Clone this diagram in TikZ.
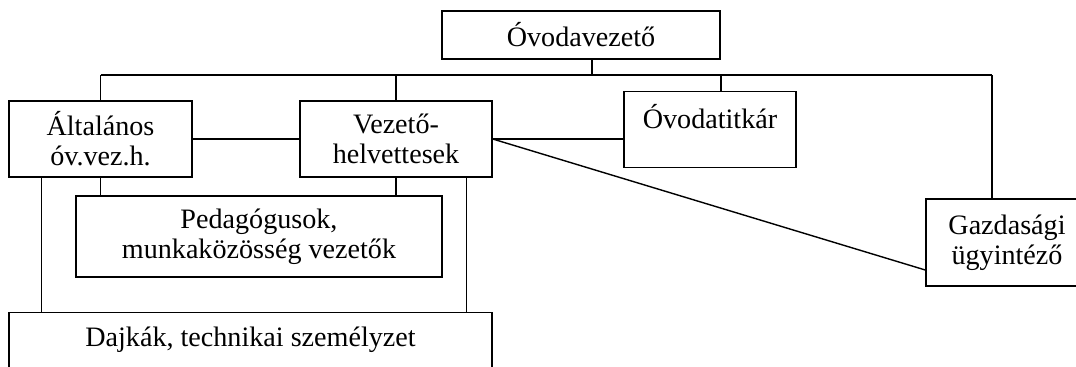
\documentclass[tikz,border=0pt]{standalone}
\usepackage{fontspec}
\setmainfont{Liberation Serif}
\usetikzlibrary{calc}
\newcommand{\orgfont}{\fontsize{20pt}{21.5pt}\selectfont}

\begin{document}
\begin{tikzpicture}[x=0.025cm, y=-0.025cm,
        box/.style={draw, line width=1pt, inner sep=0pt, align=center, font=\orgfont},
        line width=1pt]
        \useasboundingbox (0,0) rectangle (1076,367);
        \node[box, minimum width=6.95cm, minimum height=1.2cm] (lead) at (581,35) {Óvodavezető};
        \node[box, minimum width=4.575cm, minimum height=1.9cm] (alt) at (100.5,139) {Általános\\óv.vez.h.};
        \node[box, minimum width=4.8cm, minimum height=1.9cm] (dep) at (396,139) {Vezető-\\helvettesek};
        \node[box, anchor=north, minimum width=4.3cm, text height=0.92cm, text depth=0.98cm] (sec) at (710,91) {Óvodatitkár};
        \node[box, minimum width=4.05cm, minimum height=2.175cm] (eco) at (1007,242.5) {Gazdasági\\ügyintéző};
        \node[box, minimum width=9.15cm, minimum height=2.025cm] (ped) at (259,236.5) {Pedagógusok,\\munkaközösség vezetők};
        \node[box, anchor=north, minimum width=12.075cm, text height=0.85cm, text depth=1.2cm] (staff) at (250.5,312) {Dajkák, technikai személyzet};
        \coordinate (bus) at (0,75);
        \coordinate (leadstem) at ([xshift=0.275cm]lead.south);
        \coordinate (secstem) at ([xshift=0.275cm]sec.north);
        \coordinate (ecotop) at ([xshift=-0.375cm]eco.north);
        \draw (leadstem) -- (leadstem |- bus);
        \draw (alt.north |- bus) -- (ecotop |- bus);
        \foreach \n in {alt.north, dep.north, secstem, ecotop}
            \draw (\n) -- (\n |- bus);
        \draw (alt.east) -- (dep.west);
        \draw (dep.east) -- (dep.east -| sec.west);
        \draw (dep.east) -- ([yshift=-0.6875cm]eco.west);
        \draw (alt.south) -- (alt.south |- ped.north);
        \draw (dep.south) -- (dep.south |- ped.north);
        \draw ([xshift=0.825cm]alt.south west) -- ([xshift=0.825cm]alt.south west |- staff.north);
        \draw ([xshift=-0.65cm]dep.south east) -- ([xshift=-0.65cm]dep.south east |- staff.north);
    \end{tikzpicture}
\end{document}
